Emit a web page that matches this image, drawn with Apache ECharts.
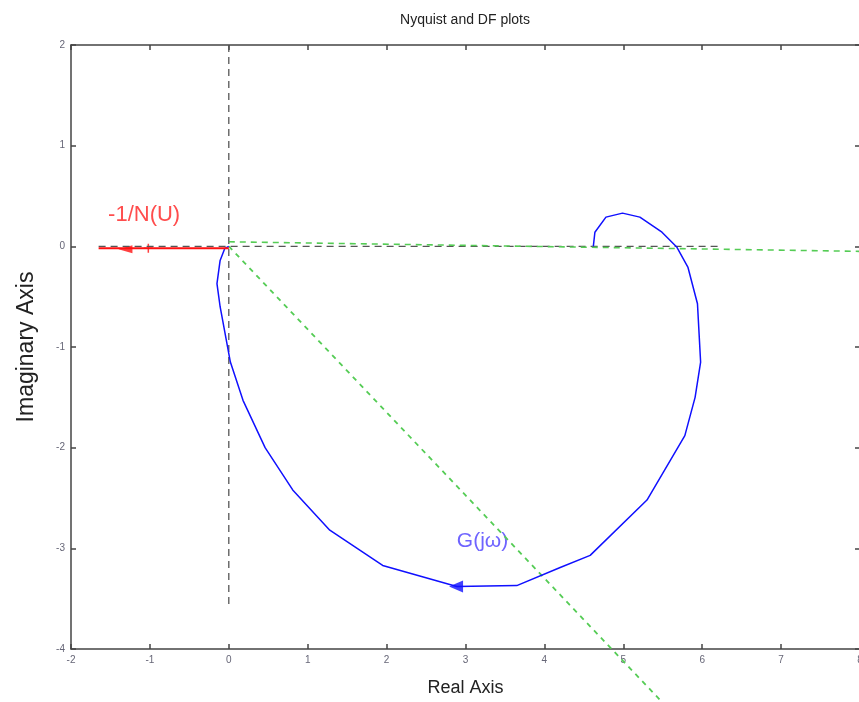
<!DOCTYPE html>
<html>
<head>
<meta charset="utf-8">
<script src="https://cdn.jsdelivr.net/npm/echarts@6/dist/echarts.min.js"></script>
<style>html,body{margin:0;padding:0;background:#fff}#c{width:859px;height:702px}</style>
</head>
<body>
<div id="c"></div>
<script>
// Nyquist curve G(jw): [real, imag]
const gjw = [
  [4.62, 0.0], [4.64, 0.14], [4.78, 0.29], [4.99, 0.33], [5.21, 0.29], [5.49, 0.14],
  [5.68, -0.01], [5.82, -0.21], [5.94, -0.57], [5.98, -1.15], [5.91, -1.5],
  [5.78, -1.88], [5.30, -2.52], [4.58, -3.07], [4.20, -3.19], [3.65, -3.37],
  [2.89, -3.38], [1.95, -3.17], [1.28, -2.82], [0.81, -2.42], [0.46, -2.0],
  [0.18, -1.53], [0.02, -1.15], [-0.11, -0.6], [-0.15, -0.37], [-0.11, -0.14],
  [-0.05, -0.02], [0.0, 0.0]
];
// Describing function -1/N(U)
const dfLine = [[-1.65, -0.02], [0.0, -0.02]];
const dfPlus = [[-1.02, -0.02]];
const dfArrow = [[-1.31, -0.03]];
const gArrow = [[2.88, -3.38]];
// Green dashed lines
const green1 = [[0, 0.045], [8, -0.05]];
const green2 = [[0, 0.0], [5.52, -4.55]];
// Black dashed axes lines
const vDash = [[0, 2], [0, -3.6]];
const hDash = [[-1.65, 0], [6.2, 0]];
// Annotations
const dfLabel = [[-1.53, 0.31, '-1/N(U)']];
const gLabel = [[2.89, -2.93, 'G(jω)']];
const xTicks = [-2, -1, 0, 1, 2, 3, 4, 5, 6, 7, 8];
const yTicks = [-4, -3, -2, -1, 0, 1, 2];

const font = 'Liberation Sans, Arial, sans-serif';
const chart = echarts.init(document.getElementById('c'));
const axisCommon = {
  type: 'value',
  splitLine: {show: false},
  axisLine: {show: true, onZero: false, lineStyle: {color: '#444', width: 1.5}},
  axisTick: {show: true, inside: true, length: 5, lineStyle: {color: '#444', width: 1.5}}
};
chart.setOption({
  animation: false,
  backgroundColor: '#fff',
  graphic: [{
    type: 'text', x: 465, y: 20,
    style: {text: 'Nyquist and DF plots', font: '14px ' + font, fill: '#222',
            align: 'center', verticalAlign: 'middle'}
  }],
  grid: {left: 71, right: -1, top: 45, bottom: 53, containLabel: false, outerBoundsMode: 'none'},
  xAxis: [
    Object.assign({}, axisCommon, {
      min: xTicks[0], max: xTicks[xTicks.length - 1], interval: 1, position: 'bottom',
      name: 'Real Axis', nameLocation: 'middle', nameGap: 30,
      nameTextStyle: {fontSize: 18, color: '#222', fontFamily: font},
      axisLabel: {fontSize: 10, color: '#667', margin: 6, fontFamily: font}
    }),
    Object.assign({}, axisCommon, {
      min: xTicks[0], max: xTicks[xTicks.length - 1], interval: 1, position: 'top',
      axisLabel: {show: false}
    })
  ],
  yAxis: [
    Object.assign({}, axisCommon, {
      min: yTicks[0], max: yTicks[yTicks.length - 1], interval: 1, position: 'left',
      name: 'Imaginary Axis', nameLocation: 'middle', nameGap: 33,
      nameTextStyle: {fontSize: 23, color: '#222', fontFamily: font},
      axisLabel: {fontSize: 10, color: '#667', margin: 6, fontFamily: font}
    }),
    Object.assign({}, axisCommon, {
      min: yTicks[0], max: yTicks[yTicks.length - 1], interval: 1, position: 'right',
      axisLabel: {show: false}
    })
  ],
  series: [
    {type: 'line', data: vDash, symbol: 'none', lineStyle: {color: '#555', width: 1.3, type: [7, 5]}},
    {type: 'line', data: hDash, symbol: 'none', lineStyle: {color: '#555', width: 1.3, type: [7, 5]}},
    {type: 'line', data: green1, symbol: 'none', lineStyle: {color: '#55cc55', width: 1.6, type: [6, 5]}},
    {type: 'line', data: green2, symbol: 'none', clip: false, lineStyle: {color: '#55cc55', width: 1.8, type: [5, 5]}},
    {type: 'line', data: gjw, symbol: 'none', lineStyle: {color: '#1010ff', width: 1.5}},
    {type: 'line', data: dfLine, symbol: 'none', lineStyle: {color: '#ff1010', width: 2}},
    {type: 'scatter', data: dfPlus, symbol: 'path://M5,0L5,10M0,5L10,5', symbolSize: 9,
      itemStyle: {color: 'none', borderColor: '#ff1010', borderWidth: 1.5}},
    {type: 'scatter', data: dfArrow, symbol: 'triangle', symbolRotate: 90, symbolSize: [8, 14],
      itemStyle: {color: '#ff1010'}},
    {type: 'scatter', data: gArrow, symbol: 'triangle', symbolRotate: 90, symbolSize: [12, 14],
      itemStyle: {color: '#1010ff'}},
    {type: 'scatter', data: dfLabel, symbolSize: 0,
      label: {show: true, position: 'right', distance: 0, formatter: p => p.data[2],
        fontSize: 22, color: '#ff2020', fontFamily: font}},
    {type: 'scatter', data: gLabel, symbolSize: 0,
      label: {show: true, position: 'right', distance: 0, formatter: p => p.data[2],
        fontSize: 21, color: '#4a3cff', fontFamily: font}}
  ]
});
</script>
</body>
</html>
